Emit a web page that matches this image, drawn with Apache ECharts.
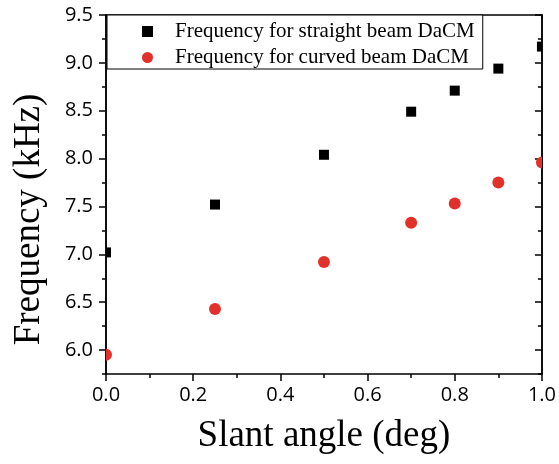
<!DOCTYPE html>
<html>
<head>
<meta charset="utf-8">
<script src="https://cdn.jsdelivr.net/npm/echarts@6/dist/echarts.min.js"></script>
<style>html,body{margin:0;padding:0;background:#fff;}#c{width:559px;height:464px;}</style>
</head>
<body>
<div id="c"></div>
<script>
var xValues = [0, 0.25, 0.5, 0.7, 0.8, 0.9, 1.0];
var straightFreq = [7.02, 7.52, 8.04, 8.49, 8.71, 8.94, 9.17];
var curvedFreq = [5.95, 6.43, 6.92, 7.33, 7.53, 7.75, 7.96];
var yMajorTicks = [6.0, 6.5, 7.0, 7.5, 8.0, 8.5, 9.0, 9.5];
var yMinorTicks = [5.75, 6.25, 6.75, 7.25, 7.75, 8.25, 8.75, 9.25];
var seriesNames = ['Frequency for straight beam DaCM', 'Frequency for curved beam DaCM'];

function pairs(xs, ys) { return xs.map(function (x, i) { return [x, ys[i]]; }); }

var chart = echarts.init(document.getElementById('c'), null, {renderer: 'canvas'});
var lineStyle = {color: '#000', width: 1.5};
var serif = 'Liberation Serif';
var sans = 'Open Sans';
var RED = '#e2302a';
function yAx(pos, ticks, len, inside, main) {
  return {
    type: 'value', position: pos, min: 5.75, max: 9.5, interval: 0.25,
    axisLine: {show: true, onZero: false, lineStyle: lineStyle},
    axisTick: {show: true, inside: inside, length: len, customValues: ticks, lineStyle: lineStyle},
    axisLabel: main ? {show: true, customValues: yMajorTicks, margin: 13, fontFamily: sans, fontSize: 20, color: '#000',
      formatter: function (v) { return v.toFixed(1); }} : {show: false},
    splitLine: {show: false},
    name: main ? 'Frequency (kHz)' : '',
    nameLocation: 'middle', nameGap: 58, nameRotate: 90,
    nameTextStyle: {fontFamily: serif, fontSize: 37, color: '#000', padding: [0, 50, 0, 0]}
  };
}
function clipOf(params) {
  var cs = params.coordSys;
  return {type: 'rect', shape: {x: cs.x, y: cs.y, width: cs.width, height: cs.height}};
}
function squareItem(params, api) {
  var p = api.coord([api.value(0), api.value(1)]);
  return {type: 'rect', clipPath: clipOf(params),
    shape: {x: p[0] - 5, y: p[1] - 5, width: 10, height: 10}, style: {fill: '#000'}};
}
function circleItem(params, api) {
  var p = api.coord([api.value(0), api.value(1)]);
  return {type: 'circle', clipPath: clipOf(params),
    shape: {cx: p[0], cy: p[1], r: 6}, style: {fill: RED}};
}
chart.setOption({
  animation: false,
  backgroundColor: '#fff',
  grid: {left: 106, right: 15, top: 15, bottom: 90, containLabel: false},
  legend: {
    orient: 'vertical', left: 107, top: 15,
    padding: [6, 8, 1, 35], itemGap: 5, itemWidth: 11, itemHeight: 11,
    borderColor: '#000', borderWidth: 1, backgroundColor: '#fff',
    textStyle: {fontFamily: serif, fontSize: 21, color: '#000', lineHeight: 20, padding: [0, 0, 0, 17]},
    data: [{name: seriesNames[0], icon: 'rect'}, {name: seriesNames[1], icon: 'circle'}]
  },
  xAxis: [{
    type: 'value', position: 'bottom', min: 0, max: 1, interval: 0.2,
    axisLine: {show: true, onZero: false, lineStyle: lineStyle},
    axisTick: {show: true, length: 7, lineStyle: lineStyle},
    minorTick: {show: true, splitNumber: 2, length: 4, lineStyle: lineStyle},
    axisLabel: {margin: 11, fontFamily: sans, fontSize: 20, color: '#000', formatter: function (v) { return v.toFixed(1); }},
    splitLine: {show: false}, minorSplitLine: {show: false},
    name: 'Slant angle (deg)', nameLocation: 'middle', nameGap: 44,
    nameTextStyle: {fontFamily: serif, fontSize: 37, color: '#000'}
  }, {
    type: 'value', position: 'top', min: 0, max: 1, interval: 0.25,
    axisLine: {show: true, onZero: false, lineStyle: lineStyle},
    axisTick: {show: true, inside: true, length: 4, lineStyle: lineStyle},
    axisLabel: {show: false}, splitLine: {show: false}
  }],
  yAxis: [
    yAx('left', yMajorTicks, 7, false, true),
    yAx('left', yMinorTicks, 4, false, false),
    yAx('right', yMajorTicks, 7, true, false),
    yAx('right', yMinorTicks, 4, true, false)
  ],
  series: [{
    name: seriesNames[0], type: 'custom', xAxisIndex: 0, yAxisIndex: 0,
    renderItem: squareItem, itemStyle: {color: '#000'},
    encode: {x: 0, y: 1},
    data: pairs(xValues, straightFreq)
  }, {
    name: seriesNames[1], type: 'custom', xAxisIndex: 0, yAxisIndex: 0,
    renderItem: circleItem, itemStyle: {color: RED},
    encode: {x: 0, y: 1},
    data: pairs(xValues, curvedFreq)
  }]
});
</script>
</body>
</html>
